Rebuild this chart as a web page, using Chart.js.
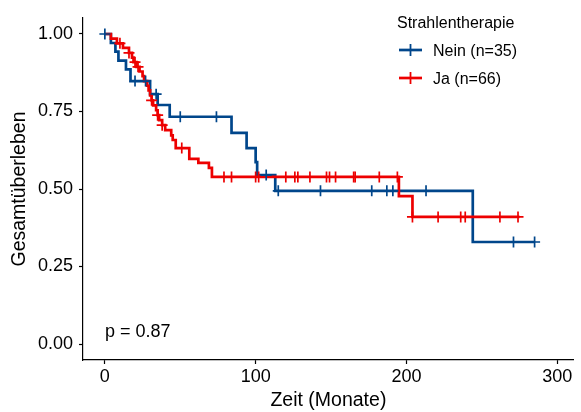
<!DOCTYPE html>
<html>
<head>
<meta charset="utf-8">
<script src="https://cdn.jsdelivr.net/npm/chart.js@4.4.1/dist/chart.umd.min.js"></script>
<style>
  html, body { margin: 0; padding: 0; background: #ffffff; }
  #wrap { width: 581px; height: 412px; position: relative; }
</style>
</head>
<body>
<div id="wrap"><canvas id="c" width="581" height="412"></canvas></div>
<script>
// ---- Data ----
const legendTitle = "Strahlentherapie";
const groupLabels = ["Nein (n=35)", "Ja (n=66)"];
const xTicks = [0, 100, 200, 300];
const yTicks = [0, 0.25, 0.5, 0.75, 1.0];
const pValueText = "p = 0.87";

// Nein (blue): event times and survival after each event
const neinTimes = [0, 4, 7, 9, 14, 17, 30, 35, 43, 84, 94, 100, 101, 113, 244, 285];
const neinSurv  = [1, 0.971, 0.943, 0.914, 0.886, 0.848, 0.806, 0.771, 0.733, 0.681, 0.632, 0.587, 0.545, 0.494, 0.329, 0.329];
const neinCensor = [0, 20, 27, 34, 50, 74, 107, 115, 143, 177, 187, 191, 213, 271, 285];

// Ja (red): event times and survival after each event
const jaTimes = [0, 4, 8, 12, 16, 18, 19, 21, 23, 25, 26, 28, 29, 30, 31, 32, 34, 35, 36, 38, 40, 44, 45, 47, 56, 62, 69, 71, 195, 204, 275];
const jaSurv  = [1, 0.985, 0.970, 0.955, 0.939, 0.924, 0.909, 0.894, 0.879, 0.864, 0.848, 0.833, 0.818, 0.802, 0.786, 0.770, 0.754, 0.738, 0.722, 0.706, 0.690, 0.673, 0.658, 0.632, 0.597, 0.584, 0.568, 0.539, 0.477, 0.410, 0.410];
const jaCensor = [10, 16, 20, 22, 31, 35, 38, 51, 79, 84, 100, 102, 120, 126, 128, 136, 147, 149, 153, 165, 166, 182, 194, 204, 221, 236, 239, 262, 274];

const blue = "#00468B";
const red = "#ED0000";
const FONT = "'Liberation Sans', Arial, Helvetica, sans-serif";

function curve(times, surv) { return times.map((t, i) => ({ x: t, y: surv[i] })); }
function survAt(times, surv, t) {
  let s = surv[0];
  for (let i = 0; i < times.length; i++) { if (times[i] <= t) s = surv[i]; }
  return s;
}
function marks(cens, times, surv) { return cens.map(t => ({ x: t, y: survAt(times, surv, t) })); }

const overlay = {
  id: 'overlay',
  afterDraw(chart) {
    const ctx = chart.ctx;
    ctx.save();
    ctx.fillStyle = '#000';
    ctx.textBaseline = 'alphabetic';
    ctx.textAlign = 'left';
    ctx.font = '18px ' + FONT;
    ctx.fillText(pValueText, 105, 337);
    ctx.font = '16px ' + FONT;
    ctx.fillText(legendTitle, 397, 28);
    const items = [{ c: blue, y: 50, b: 56 }, { c: red, y: 78, b: 84 }];
    items.forEach((it, i) => {
      ctx.strokeStyle = it.c;
      ctx.lineWidth = 2.7;
      ctx.beginPath(); ctx.moveTo(399, it.y); ctx.lineTo(422, it.y); ctx.stroke();
      ctx.lineWidth = 1.8;
      ctx.beginPath(); ctx.moveTo(410.5, it.y - 6); ctx.lineTo(410.5, it.y + 6); ctx.stroke();
      ctx.fillStyle = '#000';
      ctx.fillText(groupLabels[i], 433, it.b);
    });
    ctx.restore();
  }
};

new Chart(document.getElementById('c'), {
  type: 'scatter',
  data: {
    datasets: [
      { label: groupLabels[0], data: curve(neinTimes, neinSurv), showLine: true, stepped: 'before',
        borderColor: blue, borderWidth: 2.7, pointRadius: 0, order: 4 },
      { label: groupLabels[1], data: curve(jaTimes, jaSurv), showLine: true, stepped: 'before',
        borderColor: red, borderWidth: 2.7, pointRadius: 0, order: 3 },
      { label: 'cens0', data: marks(neinCensor, neinTimes, neinSurv), showLine: false, pointStyle: 'cross',
        pointRadius: 5.5, borderColor: blue, borderWidth: 1.7, order: 2 },
      { label: 'cens1', data: marks(jaCensor, jaTimes, jaSurv), showLine: false, pointStyle: 'cross',
        pointRadius: 5.5, borderColor: red, borderWidth: 1.7, order: 1 }
    ]
  },
  options: {
    responsive: false,
    animation: false,
    devicePixelRatio: 1,
    layout: { padding: { top: 18, right: 3, left: 0, bottom: 0 } },
    plugins: { legend: { display: false }, tooltip: { enabled: false } },
    elements: { line: { tension: 0 } },
    scales: {
      x: {
        type: 'linear', min: -14.5, max: 311,
        afterBuildTicks: s => { s.ticks = xTicks.map(v => ({ value: v })); },
        afterFit: s => { s.height = 52; },
        grid: { display: true, drawOnChartArea: false, drawTicks: true, tickLength: 4, tickColor: '#000', tickWidth: 1.2 },
        border: { display: true, color: '#000', width: 1.2 },
        ticks: { color: '#000', font: { family: FONT, size: 18 }, padding: 2, maxRotation: 0,
                 callback: v => String(v) },
        title: { display: true, text: 'Zeit (Monate)', color: '#000', font: { family: FONT, size: 19.5 },
                 padding: { top: 0, bottom: 0 } }
      },
      y: {
        type: 'linear', min: -0.0516, max: 1.0516,
        afterBuildTicks: s => { s.ticks = yTicks.map(v => ({ value: v })); },
        afterFit: s => { s.width = 83; },
        grid: { display: true, drawOnChartArea: false, drawTicks: true, tickLength: 4, tickColor: '#000', tickWidth: 1.2 },
        border: { display: true, color: '#000', width: 1.2 },
        ticks: { color: '#000', font: { family: FONT, size: 18 }, padding: 6,
                 callback: v => Number(v).toFixed(2) },
        title: { display: true, text: 'Gesamtüberleben', color: '#000', font: { family: FONT, size: 19.5 },
                 padding: { top: 8, bottom: 0 } }
      }
    }
  },
  plugins: [overlay]
});
</script>
</body>
</html>
